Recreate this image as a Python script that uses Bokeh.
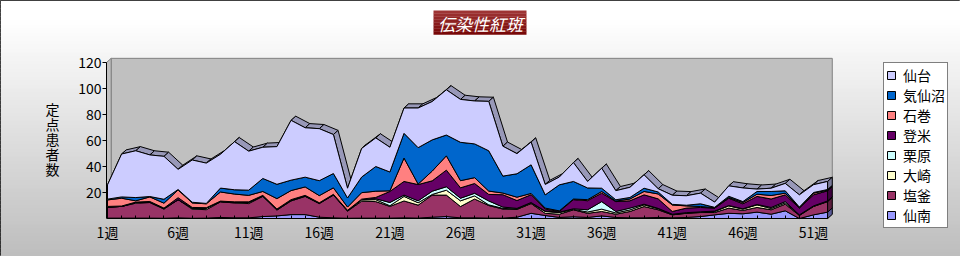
import numpy as np
from bokeh.plotting import figure
from bokeh.models import Range1d, FixedTicker, LinearAxis, Legend, LegendItem
from bokeh.embed import file_html
from bokeh.resources import INLINE
from bokeh.core.properties import value

# ---------------- data ----------------
weeks = list(range(1, 53))
series_names = ["仙南", "塩釜", "大崎", "栗原", "登米", "石巻", "気仙沼", "仙台"]
series_colors = ["#9999FF", "#993366", "#FFFFCC", "#CCFFFF", "#660066", "#FF8080", "#0066CC", "#CCCCFF"]

sennan = [0.3, 0.3, 0.3, 0.3, 0.2, 0.5, 0.2, 0.3, 0.8, 0.5,
          0.5, 1.5, 2, 3, 3, 1, 0.5, 0.2, 0.3, 0.3,
          0.3, 0.5, 0.3, 1, 1.5, 0.5, 0.5, 0.3, 0.3, 1,
          4, 2.3, 0.8, 1.3, 0.8, 2, 0.8, 0.5, 0.5, 0.8,
          0.5, 0.8, 1.5, 2.8, 4, 3.6, 4.9, 3.3, 5.9, 0,
          2.8, 4.9]
shiogama = [8.5, 9, 11.5, 12, 7, 14, 7, 6.5, 12, 11.5,
            11, 15.5, 4.5, 10.5, 14, 10.5, 17.5, 5.5, 13, 12.7,
            9, 13, 10, 17, 16.5, 8.7, 14.5, 9.7, 7, 6,
            7.5, 1.7, 2.5, 5.4, 3.2, 3.4, 2.5, 4.9, 8.7, 5.9,
            2.3, 3.2, 3.1, 1.8, 4, 2.6, 3.6, 3.4, 5.1, 2.3,
            6.4, 8.1]
osaki = [0, 0, 0.5, 0.3, 0.5, 0, 0.8, 1.2, 0.3, 0.5,
         1, 0.3, 0.3, 0.5, 0.3, 0.3, 0.3, 0.3, 1, 1.5,
         0.5, 3.5, 1.8, 0.5, 3.8, 4.4, 2.4, 0.5, 0.5, 0.3,
         0.3, 1.4, 1.3, 0.3, 1, 1.8, 1, 1.2, 1.3, 0.8,
         0.3, 0.3, 0.3, 0.8, 1.7, 1, 2, 1, 1, 0.3,
         0.3, 0.3]
kurihara = [0, 0, 0, 0, 0, 0, 0, 0, 0, 0,
            0, 0, 0, 0, 0, 0, 0, 0, 0.3, 0.7,
            2.5, 1, 1.5, 2.5, 2.6, 2, 2, 3, 1, 0.5,
            0.5, 0.3, 0.3, 0.5, 1.7, 5.8, 1.1, 1.4, 0.5, 0.3,
            0.2, 0.2, 0.2, 0.3, 0.3, 0.3, 0.3, 0.8, 1, 0.2,
            0.2, 0.2]
tome = [0.5, 0.3, 0.3, 0.5, 0.3, 1.5, 0.5, 0.3, 0.3, 0.3,
        0.3, 0.5, 0.5, 0.5, 0.5, 0.3, 0.3, 0.3, 0.3, 1,
        8.5, 10.5, 12.5, 8, 12.8, 8, 7.5, 5, 9.5, 6,
        6, 1.5, 0.5, 7, 7, 6.5, 7.6, 5.6, 7.2, 7.3,
        2.1, 3.5, 3.4, 2.3, 5.6, 3.8, 6.2, 6.5, 5.2, 5.2,
        8.5, 7.8]
ishinomaki = [5, 6, 1, 3.5, 3.8, 6, 3.5, 3, 7, 6,
              5, 3, 8, 7, 6.5, 5.5, 5, 2.5, 5, 4.8,
              0.5, 18, 0.4, 7.5, 11, 5.5, 4.5, 2.6, 1.3, 2.6,
              1, 0.8, 0.5, 0.5, 0.8, 1.3, 0.4, 1.4, 2.6, 3.8,
              5, 1.7, 0.7, 0.3, 0.5, 1, 1.7, 2.7, 1.3, 0.5,
              1.3, 0.5]
kesennuma = [0.6, 1, 2.5, 0.3, 3, 0.3, 0.5, 0.3, 3, 3.3,
             4, 10, 11, 8, 7.5, 11.5, 11, 7, 12, 19,
             14.5, 19, 28, 24, 16, 29.5, 26, 31, 13, 18,
             22, 10.2, 20, 13.5, 9, 2.5, 1, 1.2, 2.5, 1.5,
             0.5, 0.5, 2.1, 0.3, 1, 0.7, 2.1, 3.1, 1.8, 0.3,
             0.5, 0.5]
sendai = [11, 33, 36, 32, 33, 15.5, 32.5, 31, 26, 37,
          30, 24, 29, 46, 38, 40, 30, 7.5, 22, 22,
          19, 19.5, 30.5, 29.5, 34.8, 33, 33, 38, 23, 15.5,
          17.5, 8, 6, 14.5, 5, 15.4, 7, 7.8, 10.3, 2.5,
          7, 7.3, 8.2, 4, 8, 10.5, 1.8, 2.5, 5.7, 9.4,
          6, 6.2]

series_values = [sennan, shiogama, osaki, kurihara, tome, ishinomaki, kesennuma, sendai]
x_tick_labels = {w: (f"{w}週" if (w - 1) % 5 == 0 else "") for w in weeks}
y_ticks = [20, 40, 60, 80, 100, 120]
title_text = "伝染性紅斑"
y_title = "定点患者数"

# ---------------- layout constants ----------------
W, H = 960, 256
X0PX, PXW = 107.0, 14.12     # week 1 at pixel 107, pixels per week
Y0PX, PXV = 218.0, 1.3       # value 0 at pixel 218, pixels per unit
DX, DY = 0.33, 3.2           # 3D depth offset in data units
FONT = "Noto Sans CJK JP"

x_range = Range1d(1 - X0PX / PXW, 1 + (W - X0PX) / PXW)
y_range = Range1d((Y0PX - H) / PXV, Y0PX / PXV)

p = figure(width=W, height=H, x_range=x_range, y_range=y_range,
           output_backend="svg", toolbar_location=None, min_border=0,
           x_axis_type=None, y_axis_type=None)
p.extra_x_ranges = {"px": Range1d(0, W)}
p.extra_y_ranges = {"px": Range1d(H, 0)}
p.background_fill_color = "white"
p.border_fill_color = "white"
p.outline_line_color = "black"
p.outline_line_width = 1


def shade(hexc, f):
    h = hexc.lstrip("#")
    r, g, b = (int(h[i:i + 2], 16) for i in (0, 2, 4))
    return "#%02x%02x%02x" % (int(r * f), int(g * f), int(b * f))


# background gradient (white at top to grey at bottom)
N = 64
tops, bots, cols = [], [], []
for i in range(N):
    y0, y1 = i * H / N, (i + 1) * H / N
    ym = (y0 + y1) / 2
    t = max(0.0, (ym - 20) / (H - 20))
    c = int(round(255 - t * 66))
    tops.append(y0)
    bots.append(y1 + 0.5)
    cols.append("#%02x%02x%02x" % (c, c, c))
p.quad(left=0, right=W, top=tops, bottom=bots, fill_color=cols, line_color=None,
       x_range_name="px", y_range_name="px")

# walls
xl = 1 - 1.0 / PXW
xr = weeks[-1]
ymax = y_ticks[-1]
p.quad(left=xl + DX, right=xr + DX, bottom=DY, top=ymax + DY,
       fill_color="#C0C0C0", line_color="#808080", line_width=1)
p.patch([xl, xl + DX, xl + DX, xl], [0, DY, ymax + DY, ymax],
        fill_color="#C0C0C0", line_color="#808080", line_width=1)
p.patch([xl, xr, xr + DX, xl + DX], [0, 0, DY, DY],
        fill_color="#A0A0A0", line_color="#808080", line_width=1)

# stacking
vals = np.array(series_values, dtype=float)
cum = np.vstack([np.zeros(len(weeks)), np.cumsum(vals, axis=0)])
wx = np.array(weeks, dtype=float)
total = cum[-1]

# top face of the 3D stack
band_xs, band_ys = [], []
for i in range(len(weeks) - 1):
    band_xs.append([wx[i], wx[i + 1], wx[i + 1] + DX, wx[i] + DX])
    band_ys.append([total[i], total[i + 1], total[i + 1] + DY, total[i] + DY])
p.patches(band_xs, band_ys, fill_color="#9898B8", line_color="black", line_width=1)

# front faces
renderers = []
for k, (name, col) in enumerate(zip(series_names, series_colors)):
    xs = list(wx) + list(wx[::-1])
    ys = list(cum[k + 1]) + list(cum[k][::-1])
    r = p.patch(xs, ys, fill_color=col, line_color="black", line_width=1)
    renderers.append(r)

# side faces at the last week
for k, col in enumerate(series_colors):
    b, t = cum[k][-1], cum[k + 1][-1]
    p.patch([xr, xr + DX, xr + DX, xr], [b, b + DY, t + DY, t],
            fill_color=shade(col, 0.6), line_color="black", line_width=1)

# title box
nb = 8
tb_top, tb_bot = 10, 34
tq_t, tq_b, tq_c = [], [], []
for i in range(nb):
    y0 = tb_top + (tb_bot - tb_top) * i / nb
    y1 = tb_top + (tb_bot - tb_top) * (i + 1) / nb
    f = i / (nb - 1)
    r_ = int(0x9E - f * (0x9E - 0x78))
    g_ = int(0x34 - f * (0x34 - 0x08))
    tq_t.append(y0)
    tq_b.append(y1 + 0.3)
    tq_c.append("#%02x%02x%02x" % (r_, g_, g_))
p.quad(left=433, right=526, top=tq_t, bottom=tq_b, fill_color=tq_c, line_color=None,
       x_range_name="px", y_range_name="px")
p.text(x=[480], y=[22.5], text=[title_text], text_color="white",
       text_font=value(FONT), text_font_size="17px", text_font_style="italic",
       text_align="center", text_baseline="middle",
       x_range_name="px", y_range_name="px")

# vertical (stacked, upright) y-axis title
chars = list(y_title)
p.text(x=[52] * len(chars), y=[108 + 15 * i for i in range(len(chars))], text=chars,
       text_color="black", text_font=value(FONT), text_font_size="14px",
       text_align="center", text_baseline="middle",
       x_range_name="px", y_range_name="px")

# axes
yaxis = LinearAxis(fixed_location=xl, bounds=(0, ymax), ticker=FixedTicker(ticks=y_ticks))
yaxis.major_tick_out = 4
yaxis.major_tick_in = 0
yaxis.minor_tick_out = 0
yaxis.minor_tick_in = 0
yaxis.major_label_standoff = 1
yaxis.major_label_text_font = FONT
yaxis.major_label_text_font_size = "14px"
yaxis.major_label_text_color = "black"
yaxis.axis_line_color = "black"
p.add_layout(yaxis, "left")

xaxis = LinearAxis(fixed_location=0, bounds=(weeks[0], weeks[-1]), ticker=FixedTicker(ticks=weeks))
xaxis.major_label_overrides = x_tick_labels
xaxis.major_tick_in = 3
xaxis.major_tick_out = 0
xaxis.minor_tick_out = 0
xaxis.minor_tick_in = 0
xaxis.major_label_standoff = 3
xaxis.major_label_text_font = FONT
xaxis.major_label_text_font_size = "14px"
xaxis.major_label_text_color = "black"
xaxis.axis_line_color = "black"
p.add_layout(xaxis, "below")

# legend
items = [LegendItem(label=n, renderers=[r]) for n, r in zip(series_names[::-1], renderers[::-1])]
legend = Legend(items=items, location=(883, 28), orientation="vertical")
legend.border_line_color = "black"
legend.border_line_width = 1
legend.background_fill_color = "white"
legend.background_fill_alpha = 1.0
legend.padding = 2
legend.spacing = 0
legend.margin = 0
legend.label_height = 18
legend.glyph_height = 10
legend.glyph_width = 10
legend.label_standoff = 7
legend.label_text_font = FONT
legend.label_text_font_size = "14px"
legend.label_text_color = "black"
p.add_layout(legend)

open("out.html", "w").write(file_html(p, INLINE))
